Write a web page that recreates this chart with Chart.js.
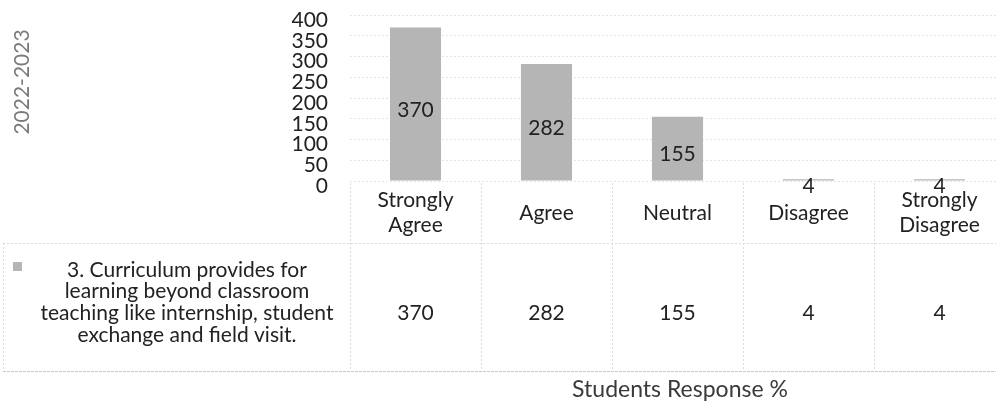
<!DOCTYPE html>
<html><head><meta charset="utf-8">
<script src="https://cdn.jsdelivr.net/npm/chart.js@4"></script>
<style>
html,body{margin:0;padding:0;background:#fff;overflow:hidden;width:996px;height:412px}
#wrap{position:relative;width:1008px;height:412px}
canvas{display:block}
</style></head>
<body><div id="wrap"><canvas id="c" width="1008" height="412"></canvas></div>
<script>
// ---- data ----
const categories = [["Strongly","Agree"],["Agree"],["Neutral"],["Disagree"],["Strongly","Disagree"]];
const responses = [370, 282, 155, 4, 4];
const seriesName = ["3. Curriculum provides for","learning beyond classroom","teaching like internship, student","exchange and field visit."];
const yearLabel = "2022-2023";
const xTitle = "Students Response %";
const yMax = 400;
const yStep = 50;

const FONT = 'Lato, "Open Sans", sans-serif';
const TEXT = '#222';
const BAR = '#b5b5b5';

const tablePlugin = {
  id: 'tablePlugin',
  afterDraw(chart) {
    const ctx = chart.ctx;
    const xs = chart.scales.x;
    const area = chart.chartArea;
    const meta = chart.getDatasetMeta(0);
    const vals = chart.data.datasets[0].data;
    const labels = chart.data.labels;
    const colW = xs.getPixelForValue(1) - xs.getPixelForValue(0);
    const left = area.left;
    const n = labels.length;
    const tableTop = area.bottom + 2, rowSplit = 243, tableBottom = 371;

    ctx.save();
    // table lines
    ctx.strokeStyle = '#dadada';
    ctx.lineWidth = 1;
    ctx.setLineDash([2, 2]);
    ctx.beginPath();
    for (let i = 0; i <= n; i++) {
      const x = Math.round(left + i * colW) + 0.5;
      ctx.moveTo(x, tableTop); ctx.lineTo(x, tableBottom);
    }
    ctx.moveTo(3.5, rowSplit); ctx.lineTo(3.5, tableBottom);
    ctx.moveTo(3, rowSplit + 0.5); ctx.lineTo(chart.width, rowSplit + 0.5);
    ctx.stroke();
    ctx.setLineDash([3, 1]);
    ctx.strokeStyle = '#c8c8c8';
    ctx.beginPath();
    ctx.moveTo(3, tableBottom + 0.5); ctx.lineTo(chart.width, tableBottom + 0.5);
    ctx.stroke();
    ctx.setLineDash([]);

    // header labels
    ctx.fillStyle = TEXT;
    ctx.font = '21px ' + FONT;
    ctx.textAlign = 'center';
    ctx.textBaseline = 'middle';
    const lineH = 25;
    labels.forEach((lab, i) => {
      const cx = xs.getPixelForValue(i);
      const lines = Array.isArray(lab) ? lab : [lab];
      const y0 = 213 - (lines.length - 1) * lineH / 2;
      lines.forEach((ln, k) => ctx.fillText(ln, cx, y0 + k * lineH));
      ctx.fillText(String(vals[i]), cx, 313);
    });

    // series name
    seriesName.forEach((ln, k) => ctx.fillText(ln, 187, 270 + k * 21.7));
    ctx.fillStyle = BAR;
    ctx.fillRect(13, 262, 9, 9);

    // data labels on bars
    ctx.fillStyle = TEXT;
    meta.data.forEach((el, i) => {
      const y = (el.y + el.base) / 2 + 6;
      ctx.fillText(String(vals[i]), el.x, y);
    });

    // axis titles
    ctx.fillStyle = '#3a3a3a';
    ctx.font = '23px ' + FONT;
    ctx.fillText(xTitle, 680, 390);

    ctx.save();
    ctx.translate(22, 82);
    ctx.rotate(-Math.PI / 2);
    ctx.fillStyle = '#7a7a7a';
    ctx.font = '21px ' + FONT;
    ctx.fillText(yearLabel, 0, 0);
    ctx.restore();

    ctx.restore();
  }
};

new Chart(document.getElementById('c'), {
  type: 'bar',
  data: {
    labels: categories,
    datasets: [{
      label: seriesName.join(' '),
      data: responses,
      backgroundColor: BAR,
      borderWidth: 0,
      barPercentage: 0.39,
      categoryPercentage: 1.0
    }]
  },
  options: {
    responsive: false,
    animation: false,
    devicePixelRatio: 1,
    layout: { padding: { top: 15, right: 3, bottom: 231, left: 0 } },
    plugins: { legend: { display: false }, tooltip: { enabled: false }, title: { display: false } },
    scales: {
      x: { display: false, offset: true },
      y: {
        min: 0, max: yMax,
        afterFit(scale) { scale.width = 350; scale.paddingTop = 0; scale.paddingBottom = 0; },
        ticks: { stepSize: yStep, autoSkip: false, color: TEXT, font: { family: FONT, size: 21 }, padding: 22, labelOffset: 5 },
        grid: { color: '#e4e4e4', drawTicks: false },
        border: { display: false, dash: [2, 2] }
      }
    }
  },
  plugins: [tablePlugin]
});
</script>
</body></html>
